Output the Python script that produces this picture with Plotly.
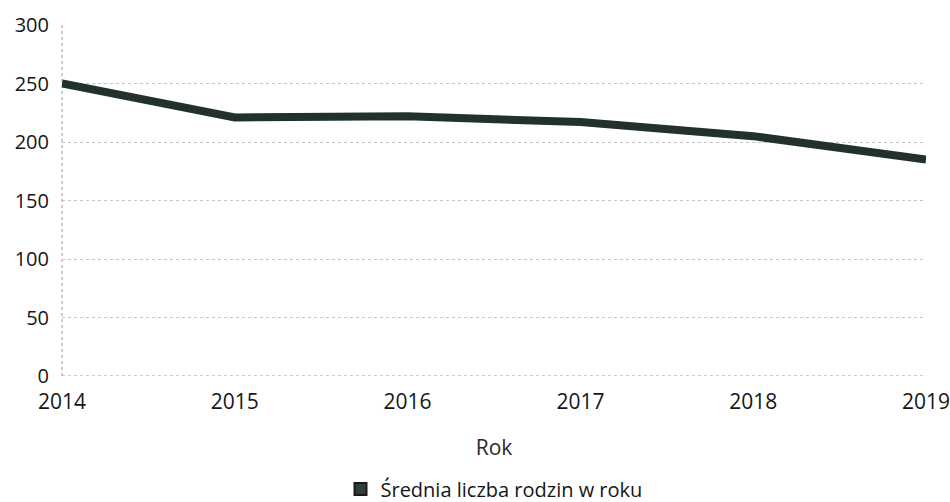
import plotly.graph_objects as go

years = [2014, 2015, 2016, 2017, 2018, 2019]
values = [250, 221, 222, 217, 205, 185]
y_ticks = [0, 50, 100, 150, 200, 250, 300]
series_name = "Średnia liczba rodzin w roku"
x_title = "Rok"

line_color = "#22322b"
font_family = "Open Sans, Noto Sans, sans-serif"
text_color = "#161616"

fig = go.Figure()
fig.add_trace(go.Scatter(
    x=years, y=values, mode="lines",
    line=dict(color=line_color, width=8),
    cliponaxis=False, showlegend=False, hoverinfo="x+y",
))
fig.add_trace(go.Scatter(
    x=[None], y=[None], mode="markers", name=series_name,
    marker=dict(symbol="square", size=12, color="#2f4038",
                line=dict(color="#1a1a1a", width=1)),
    showlegend=True,
))

fig.update_layout(
    width=950, height=502,
    margin=dict(l=62, r=24, t=25, b=126, autoexpand=False),
    paper_bgcolor="white", plot_bgcolor="white",
    font=dict(family=font_family, size=21, color=text_color),
    showlegend=True,
    legend=dict(orientation="h", x=0.5, xanchor="center",
                yref="container", y=0.026, yanchor="middle",
                font=dict(size=20, color=text_color), itemsizing="constant"),
    xaxis=dict(
        range=[2014, 2019], tickmode="array", tickvals=years,
        ticktext=[str(y) for y in years],
        showgrid=False, zeroline=False, showline=False,
        ticks="", ticklabelstandoff=11, automargin=False,
        ticklabeloverflow="allow",
        tickfont=dict(size=21),
        title=dict(text=x_title, font=dict(size=21, color="#2a2a2a"), standoff=26),
    ),
    yaxis=dict(
        range=[0, 300], tickmode="array", tickvals=y_ticks,
        showgrid=True, gridcolor="#c4c4c4", griddash="dot", gridwidth=1,
        zeroline=False, showline=False,
        ticks="", ticklabelstandoff=12, automargin=False,
        ticklabeloverflow="allow",
        tickfont=dict(size=20),
    ),
)
fig.add_shape(type="line", xref="paper", yref="y", x0=0, x1=1, y0=0, y1=0,
              line=dict(color="#9a9a9a", width=1, dash="dot"), layer="below")
fig.add_shape(type="line", xref="paper", yref="paper", x0=0, x1=0, y0=0, y1=1,
              line=dict(color="#9a9a9a", width=1, dash="dot"), layer="below")

fig.write_html(
    "out.html",
    config={"displayModeBar": False},
    post_script="document.body.style.margin='0';document.body.style.overflow='hidden';",
)
